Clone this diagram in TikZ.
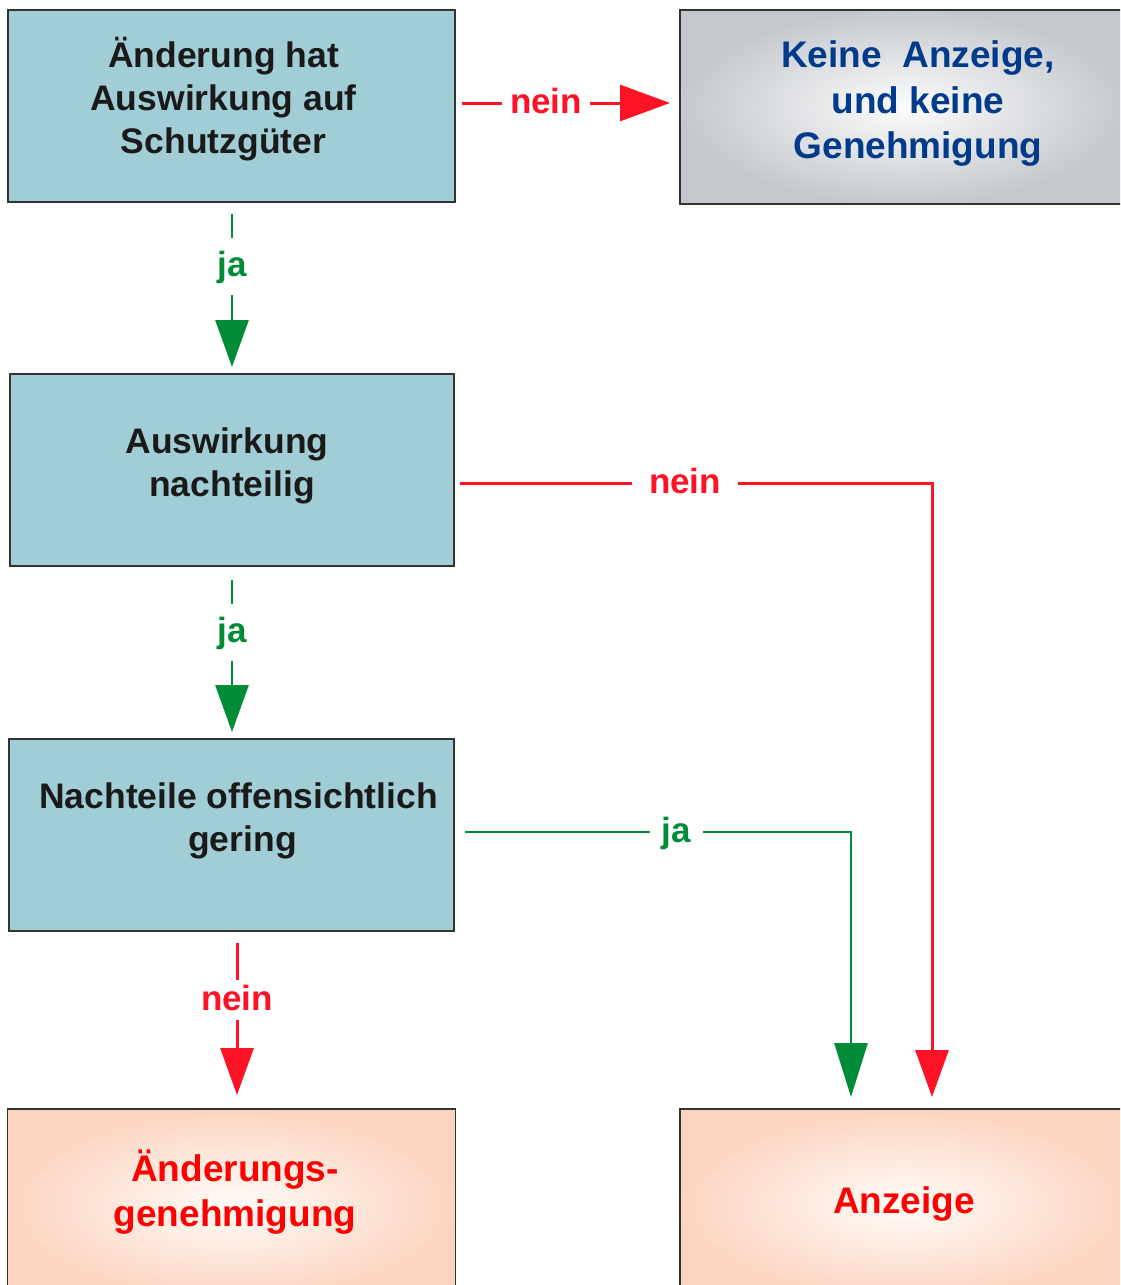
\documentclass[tikz,border=0pt]{standalone}
\usepackage{fontspec}
\setmainfont{Liberation Sans}
\usetikzlibrary{arrows.meta,calc}
\definecolor{boxteal}{RGB}{160,206,212}
\definecolor{boxedge}{RGB}{51,51,51}
\definecolor{grayout}{RGB}{196,200,205}
\definecolor{grayin}{RGB}{252,252,252}
\definecolor{peachout}{RGB}{252,212,192}
\definecolor{peachin}{RGB}{255,252,248}
\definecolor{txtdark}{RGB}{26,26,26}
\definecolor{txtblue}{RGB}{0,58,138}
\definecolor{arrred}{RGB}{255,18,38}
\definecolor{arrgreen}{RGB}{0,140,54}
\newcommand{\boxlines}[2]{\raisebox{#1}[\height][\depth]{\begin{tabular}{@{}c@{}}#2\end{tabular}}}
\begin{document}
\begin{tikzpicture}[x=1pt,y=-1pt,
  basebox/.style={rectangle, draw=boxedge, line width=1.5pt, inner sep=0pt, outer sep=0pt,
    minimum width=447pt, minimum height=192pt},
  tealbox/.style={basebox, fill=boxteal, text=txtdark,
    font=\bfseries\fontsize{35.5}{43}\selectfont},
  graybox/.style={basebox, minimum width=448pt, minimum height=194pt,
    inner color=grayin, outer color=grayout, text=txtblue,
    font=\bfseries\fontsize{37}{45.5}\selectfont},
  peachbox/.style={basebox, minimum width=448pt,
    inner color=peachin, outer color=peachout, text=red,
    font=\bfseries\fontsize{37}{45}\selectfont},
  redline/.style={draw=arrred, line width=3pt},
  greenline/.style={draw=arrgreen, line width=2.9pt},
  redtip/.style={-{Triangle[length=47pt,width=33pt]}},
  greentip/.style={-{Triangle[length=54pt,width=33pt]}},
  lbl/.style={fill=white, inner sep=0pt, text height=20pt, text depth=0pt,
    font=\bfseries\fontsize{35}{42}\selectfont},
  redlbl/.style={lbl, text=arrred},
  greenlbl/.style={lbl, text=arrgreen}
]
\useasboundingbox (0,0) rectangle (1120,1285);
\clip (0,0) rectangle (1120,1285);

% boxes
\node[tealbox] (b1) at (231.5,106) {\hspace*{-16pt}\boxlines{4pt}{Änderung hat\\Auswirkung auf\\Schutzgüter}};
\node[graybox] (b2) at (904,107) {\hspace*{28pt}\boxlines{3pt}{Keine\ \ Anzeige,\\und keine\\Genehmigung}};
\node[tealbox, minimum width=444pt] (b3) at (232,470) {\hspace*{-10pt}\boxlines{3.5pt}{Auswirkung\\\hspace*{10pt}nachteilig}};
\node[tealbox, minimum width=445pt] (b4) at (231.5,835) {\hspace*{14pt}\boxlines{14pt}{Nachteile offensichtlich\\\hspace*{8pt}gering}};
\node[peachbox] (b5) at (231.5,1205) {\hspace*{7pt}\boxlines{10pt}{Änderungs-\\genehmigung}};
\node[peachbox] (b6) at (904,1205) {\boxlines{1pt}{Anzeige}};

% connectors
\draw[redline, -{Triangle[length=50pt,width=36pt]}, shorten <=7pt, shorten >=10pt]
  ([yshift=3pt]b1.east) -- ([yshift=3pt]b1.east -| b2.west);
\draw[greenline, redtip, shorten <=12pt, shorten >=7pt]
  ([xshift=0.5pt]b1.south) -- ([xshift=0.5pt]b1.south |- b3.north);
\draw[greenline, redtip, shorten <=14pt, shorten >=7pt]
  (b3.south) -- (b3.south |- b4.north);
\draw[redline, redtip, shorten <=12pt, shorten >=14pt]
  ([xshift=5.5pt]b4.south) -- ([xshift=5.5pt]b4.south |- b5.north);
\draw[redline, redtip, shorten <=6pt, shorten >=12pt]
  ([yshift=-13pt]b3.east) -| ([xshift=28pt]b6.north);
\draw[greenline, greentip, shorten <=11pt, shorten >=12pt]
  ([yshift=3pt]b4.east) -| ([xshift=-53pt]b6.north);

% labels
\node[redlbl, inner xsep=8.5pt] (l1) at (546,103) {nein};
\node[greenlbl, inner ysep=18.5pt, inner xsep=2pt] (l2) at (232,266.5) {ja};
\node[greenlbl, inner ysep=18.5pt, inner xsep=2pt] (l3) at (232,632) {ja};
\node[redlbl, inner ysep=10pt, inner xsep=2pt] (l4) at (237,1000) {nein};
\node[redlbl, inner xsep=17.5pt] (l5) at (685,483) {nein};
\node[greenlbl, inner xsep=12pt] (l6) at (676.5,832) {ja};
\end{tikzpicture}
\end{document}
